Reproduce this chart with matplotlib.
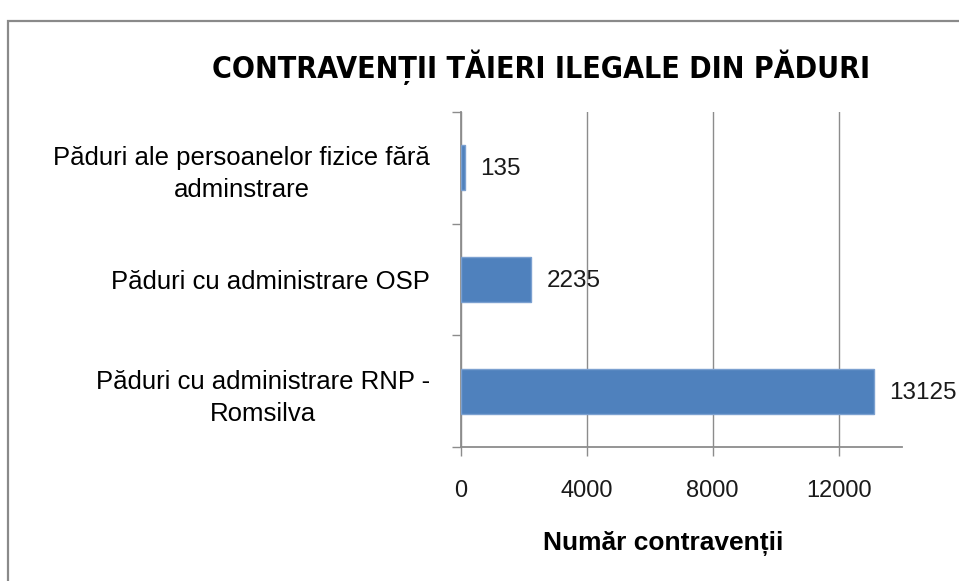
import matplotlib.pyplot as plt
import matplotlib.patches as mpatches
from matplotlib import font_manager

# --- DATA ---
categories = [
    'Păduri cu administrare RNP -\nRomsilva',
    'Păduri cu administrare OSP',
    'Păduri ale persoanelor fizice fără\nadminstrare',
]
values = [13125, 2235, 135]
x_ticks = [0, 4000, 8000, 12000]

TITLE = 'CONTRAVENȚII TĂIERI ILEGALE DIN PĂDURI'
XLABEL = 'Număr contravenții'

BAR_COLOR = '#4F81BD'
GRID_COLOR = '#8C8C8C'
SANS = ['Liberation Sans', 'DejaVu Sans']


def pick_title_font():
    """Prefer a narrow bold face (the original uses Calibri), else plain bold."""
    names = {f.name for f in font_manager.fontManager.ttflist}
    if 'Liberation Sans Narrow' in names:
        return dict(family=['Liberation Sans Narrow', 'DejaVu Sans'])
    for f in font_manager.fontManager.ttflist:
        if f.name == 'DejaVu Sans' and f.stretch == 'condensed' and f.weight in ('bold', 700):
            return dict(family=['DejaVu Sans'], fontstretch='condensed')
    return dict(family=SANS)


W, H = 959, 581
fig = plt.figure(figsize=(W / 100, H / 100), dpi=100)

# outer chart border (runs off the right / bottom edge like the original)
fig.patches.append(mpatches.Rectangle((8 / W, -0.05), 1.2, 1 - 21 / H + 0.05,
                                      transform=fig.transFigure, fill=False,
                                      edgecolor='#8A8A8A', lw=1.6, zorder=0))

ax = fig.add_axes([460.7 / W, 1 - 447.3 / H, 441 / W, 335.6 / H])

pos = [i + 0.5 for i in range(len(values))]
ax.barh(pos, values, height=0.4, color=BAR_COLOR, edgecolor='#7BA0D0',
        linewidth=1.0, zorder=3)

for p, v in zip(pos, values):
    ax.annotate(str(v), (v, p), xytext=(11, -1), textcoords='offset points',
                ha='left', va='center', fontsize=17.5, family=SANS,
                color='#1a1a1a', annotation_clip=False, clip_on=False)

ax.set_xlim(0, 14000)
ax.set_ylim(0, 3)

ax.set_xticks(x_ticks)
ax.set_xticklabels([str(t) for t in x_ticks], fontsize=17, family=SANS)
ax.tick_params(axis='x', length=6.5, width=1, color=GRID_COLOR, pad=17,
               labelcolor='#1a1a1a')

# category boundaries get tick marks, names sit between them
ax.set_yticks([0, 1, 2, 3])
ax.set_yticklabels([])
ax.set_yticks(pos, minor=True)
ax.set_yticklabels(categories, minor=True, fontsize=18.5, family=SANS,
                   multialignment='center', linespacing=1.42)
ax.tick_params(axis='y', which='major', length=6.5, width=1, color=GRID_COLOR)
ax.tick_params(axis='y', which='minor', length=0, pad=22)

ax.grid(axis='x', color=GRID_COLOR, lw=1.0, zorder=0)
ax.set_axisbelow(True)
for s in ['top', 'right']:
    ax.spines[s].set_visible(False)
for s in ['left', 'bottom']:
    ax.spines[s].set_color(GRID_COLOR)
    ax.spines[s].set_linewidth(1.3)

title = fig.text(541.5 / W, 1 - 78 / H, TITLE, ha='center', va='baseline',
                 fontsize=24, fontweight='bold', **pick_title_font())
# scale the title so it spans the same width as in the original (~659 px)
renderer = fig.canvas.get_renderer()
w = title.get_window_extent(renderer).width
title.set_fontsize(24 * 659 / w)

fig.text(663 / W, 1 - 550 / H, XLABEL, ha='center', va='baseline',
         fontsize=19, fontweight='bold', family=SANS)

plt.savefig('out.png', dpi=100)
